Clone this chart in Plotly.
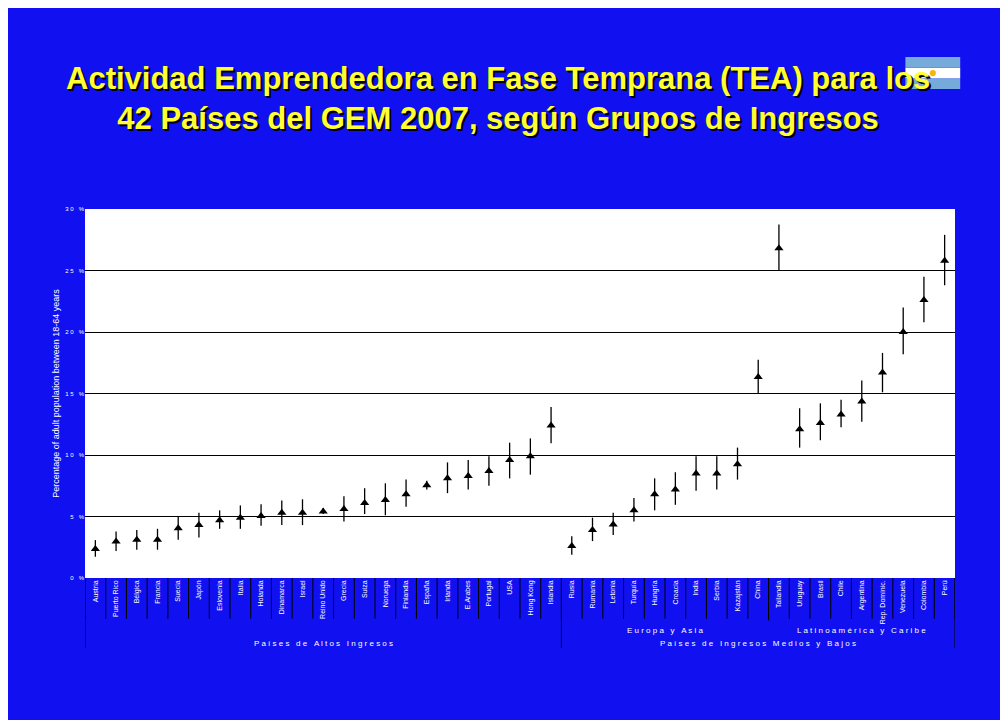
import plotly.graph_objects as go

# TEA 2007 per country, % adult population 18-64
countries = ["Austria", "Puerto Rico", "Bélgica", "Francia", "Suecia", "Japón", "Eslovenia",
             "Italia", "Holanda", "Dinamarca", "Israel", "Reino Unido", "Grecia", "Suiza",
             "Noruega", "Finlandia", "España", "Irlanda", "E.Arabes", "Portugal", "USA",
             "Hong Kong", "Islandia",
             "Rusia", "Rumania", "Letonia", "Turquía", "Hungría", "Croacia", "India", "Serbia",
             "Kazajstán", "China", "Tailandia",
             "Uruguay", "Brasil", "Chile", "Argentina", "Rep. Dominic.", "Venezuela",
             "Colombia", "Perú"]
tea = [2.35, 2.97, 3.1, 3.1, 4.05, 4.3, 4.7, 4.9, 5.05, 5.3, 5.3, 5.4, 5.6, 6.1, 6.35, 6.8,
       7.55, 8.1, 8.3, 8.7, 9.6, 9.9, 12.4,
       2.6, 3.9, 4.35, 5.5, 6.8, 7.2, 8.5, 8.5, 9.25, 16.35, 26.8,
       12.1, 12.6, 13.3, 14.35, 16.7, 20.0, 22.6, 25.8]
tea_hi = [3.08, 3.78, 3.9, 4.0, 5.0, 5.3, 5.5, 5.9, 6.0, 6.3, 6.4, 5.7, 6.65, 7.3, 7.7, 8.0,
          7.9, 9.4, 9.6, 9.9, 11.0, 11.35, 13.9,
          3.4, 4.9, 5.3, 6.5, 8.1, 8.6, 9.9, 9.9, 10.6, 17.75, 28.75,
          13.8, 14.2, 14.5, 16.05, 18.3, 22.0, 24.5, 27.9]
tea_lo = [1.73, 2.2, 2.3, 2.3, 3.1, 3.3, 4.0, 4.0, 4.25, 4.3, 4.3, 5.2, 4.6, 5.2, 5.1, 5.8,
          7.2, 6.9, 7.2, 7.5, 8.1, 8.4, 10.95,
          1.9, 3.0, 3.5, 4.6, 5.5, 5.95, 7.1, 7.2, 8.0, 15.0, 25.0,
          10.6, 11.2, 12.25, 12.7, 15.1, 18.2, 20.8, 23.8]
y_ticks = [0, 5, 10, 15, 20, 25, 30]
group_sizes = [23, 10, 7]

x = list(range(len(countries)))
fig = go.Figure()
fig.add_trace(go.Scatter(
    x=x, y=tea, mode="markers",
    marker=dict(symbol="triangle-up", size=8, color="black"),
    error_y=dict(type="data", symmetric=False,
                 array=[h - v for h, v in zip(tea_hi, tea)],
                 arrayminus=[v - l for l, v in zip(tea_lo, tea)],
                 color="black", thickness=1.3, width=0),
    showlegend=False,
))

# boundary tick lines below the axis
n = len(countries)
for i in range(n + 1):
    fig.add_shape(type="line", xref="x", yref="paper", x0=i - 0.5, x1=i - 0.5,
                  y0=0, y1=-0.11, line=dict(color="black", width=1))
edges = [-0.5, group_sizes[0] - 0.5, group_sizes[0] + group_sizes[1] - 0.5, n - 0.5]
for e, depth in zip(edges, [-0.19, -0.19, -0.115, -0.19]):
    fig.add_shape(type="line", xref="x", yref="paper", x0=e, x1=e,
                  y0=0, y1=depth, line=dict(color="black", width=1))


def spaced(s):
    return " ".join(s).replace("   ", "\u00a0\u00a0\u00a0")


font_lbl = dict(family="Arial", size=8, color="white")
fig.add_annotation(x=(edges[0] + edges[1]) / 2, y=-0.16, xref="x", yref="paper", yanchor="top",
                   text=spaced("Países de Altos Ingresos"), showarrow=False, font=font_lbl)
fig.add_annotation(x=(edges[1] + edges[3]) / 2, y=-0.16, xref="x", yref="paper", yanchor="top",
                   text=spaced("Países de Ingresos Medios y Bajos"), showarrow=False, font=font_lbl)
fig.add_annotation(x=(edges[1] + edges[2]) / 2, y=-0.125, xref="x", yref="paper", yanchor="top",
                   text=spaced("Europa y Asia"), showarrow=False, font=font_lbl)
fig.add_annotation(x=(edges[2] + edges[3]) / 2, y=-0.125, xref="x", yref="paper", yanchor="top",
                   text=spaced("Latinoamérica y Caribe"), showarrow=False, font=font_lbl)

# title with a drop shadow
title = "Actividad Emprendedora en Fase Temprana (TEA) para los<br>42 Países del GEM 2007, según Grupos de Ingresos"
for dx, dy, col in [(2, -2, "black"), (0, 0, "#FFFF33")]:
    fig.add_annotation(x=0.475, y=1.3, xref="paper", yref="paper", xshift=dx, yshift=dy,
                       text="<b>" + title + "</b>", showarrow=False, yanchor="middle",
                       font=dict(family="Arial", size=31, color=col))

# flag of Argentina
for y0, y1, c in [(1.325, 1.354, "#75AADB"), (1.354, 1.383, "white"), (1.383, 1.412, "#75AADB")]:
    fig.add_shape(type="rect", xref="paper", yref="paper", x0=0.943, x1=1.006, y0=y0, y1=y1,
                  line=dict(width=0), fillcolor=c, layer="above")
fig.add_shape(type="circle", xref="paper", yref="paper", x0=0.971, x1=0.978, y0=1.36, y1=1.377,
              line=dict(width=0), fillcolor="#F6B40E")

# margins offset by the page's 8px body margin
fig.update_layout(
    width=1008, height=720,
    margin=dict(l=77, r=61, t=201, b=150),
    paper_bgcolor="#1010F0", plot_bgcolor="white",
    xaxis=dict(tickmode="array", tickvals=x, ticktext=countries, tickangle=-90,
               tickfont=dict(family="Arial", size=7, color="white"),
               range=[-0.5, n - 0.5], showgrid=False, zeroline=False, ticks=""),
    yaxis=dict(range=[0, 30], tickvals=y_ticks, ticktext=[spaced(f"{v} %") for v in y_ticks],
               tickfont=dict(family="Arial", size=6, color="white"),
               showgrid=True, gridcolor="black", gridwidth=1, zeroline=False,
               title=dict(text="Percentage of adult population between 18-64 years",
                          font=dict(family="Arial", size=9, color="white"), standoff=4)),
)
fig.write_html("out.html")
